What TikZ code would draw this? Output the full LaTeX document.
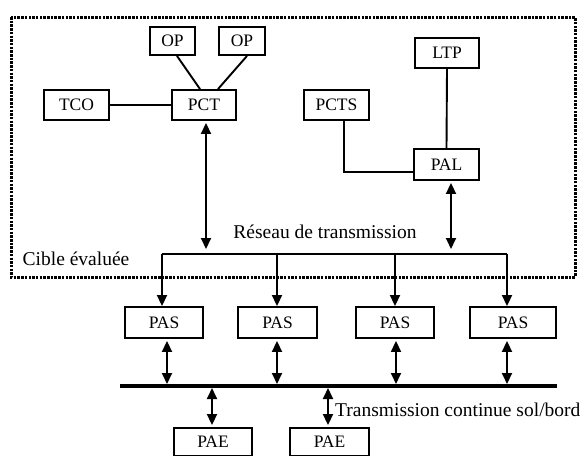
\documentclass[tikz,border=0pt]{standalone}
\usepackage{fontspec}
\setmainfont{Liberation Serif}
\usetikzlibrary{arrows.meta,calc}
\begin{document}
\begin{tikzpicture}[x=1pt,y=-1pt,
  box/.style={draw,line width=1.9pt,inner sep=0pt,font=\fontsize{17.5}{19}\selectfont},
  lab/.style={inner sep=0pt,font=\fontsize{19.5}{22}\selectfont},
  conn/.style={line width=1.9pt},
  tip/.style={line width=1.9pt,-{Triangle[length=11pt,width=10pt]}},
  dtip/.style={line width=1.9pt,{Triangle[length=11pt,width=10pt]}-{Triangle[length=11pt,width=10pt]}},
  frame/.style={line width=3pt,dash pattern=on 2.5pt off 1.2pt}]
\useasboundingbox (0,0) rectangle (580,455);
\clip (0,0) rectangle (580,455);
% frame
\draw[frame] (11,17) rectangle (575,277);
% nodes
\node[box,minimum width=45pt,minimum height=28pt] (op1) at (172.5,41) {OP};
\node[box,minimum width=46pt,minimum height=28pt] (op2) at (242,41) {OP};
\node[box,minimum width=65pt,minimum height=30pt] (tco) at (76.5,105) {TCO};
\node[box,minimum width=64pt,minimum height=30pt] (pct) at (204,105) {PCT};
\node[box,minimum width=64pt,minimum height=30pt] (ltp) at (447,53) {LTP};
\node[box,minimum width=65pt,minimum height=30pt] (pcts) at (336.5,105) {PCTS};
\node[box,minimum width=65pt,minimum height=31pt] (pal) at (446.5,164.5) {PAL};
\node[box,minimum width=78pt,minimum height=31pt] (pas1) at (164,322.5) {PAS};
\node[box,minimum width=79pt,minimum height=31pt] (pas2) at (277.5,322.5) {PAS};
\node[box,minimum width=78pt,minimum height=31pt] (pas3) at (395,322.5) {PAS};
\node[box,minimum width=86pt,minimum height=31pt] (pas4) at (513,322.5) {PAS};
\node[box,minimum width=78pt,minimum height=28pt] (pae1) at (213,442) {PAE};
\node[box,minimum width=79pt,minimum height=28pt] (pae2) at (329.5,442) {PAE};
% labels
\node[lab] (reseau) at (325,232) {Réseau de transmission};
\node[lab] (cible) at (76,259) {Cible évaluée};
\node[lab,anchor=west] (tcsb) at (335,410) {Transmission continue sol/bord};
% bus coordinates
\coordinate (b1) at (162,254);
\coordinate (b2) at (277,254);
\coordinate (b3) at (395,254);
\coordinate (b4) at (507,254);
\coordinate (bpct) at (206,254);
\coordinate (bpal) at (451,254);
\coordinate (tl) at (120,386);
\coordinate (tr) at (557,386);
\coordinate (t1) at (167,386);
\coordinate (t2) at (277,386);
\coordinate (t3) at (396,386);
\coordinate (t4) at (507,386);
\coordinate (te1) at (212,386);
\coordinate (te2) at (328,386);
% connectors
\draw[conn] (tco.east) -- (pct.west);
\draw[conn] ([xshift=4.5pt]op1.south) -- ([xshift=-4pt]pct.north);
\draw[conn] ([xshift=5pt]op2.south) -- ([xshift=14pt]pct.north);
\draw[conn] (ltp.south) -- (pal.north);
\draw[conn] ([xshift=7.5pt]pcts.south) |- ([yshift=-7.5pt]pal.west);
\draw[conn] (b1) -- (b4);
\draw[dtip,shorten <=2pt,shorten >=5pt] (pct.south -| bpct) -- (bpct);
\draw[dtip,shorten <=2pt,shorten >=5pt] (pal.south -| bpal) -- (bpal);
\draw[tip] (b1) -- (pas1.north -| b1);
\draw[tip] (b2) -- (pas2.north -| b2);
\draw[tip] (b3) -- (pas3.north -| b3);
\draw[tip] (b4) -- (pas4.north -| b4);
\draw[line width=4.5pt] (tl) -- (tr);
\draw[dtip,shorten <=2pt,shorten >=2pt] (pas1.south -| t1) -- (t1);
\draw[dtip,shorten <=2pt,shorten >=2pt] (pas2.south -| t2) -- (t2);
\draw[dtip,shorten <=2pt,shorten >=2pt] (pas3.south -| t3) -- (t3);
\draw[dtip,shorten <=2pt,shorten >=2pt] (pas4.south -| t4) -- (t4);
\draw[dtip,shorten <=2pt,shorten >=2pt] (te1) -- (pae1.north -| te1);
\draw[dtip,shorten <=2pt,shorten >=2pt] (te2) -- (pae2.north -| te2);
\end{tikzpicture}
\end{document}
